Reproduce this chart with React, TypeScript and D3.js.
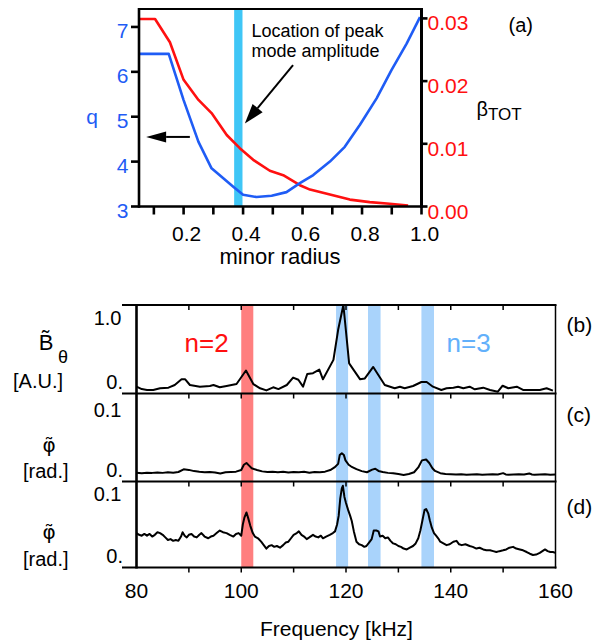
import * as d3 from 'd3';

const FONT = '"Liberation Sans", Arial, Helvetica, sans-serif';

// ── (a) radial profiles ──────────────────────────────────────────────
const qRadius = [0.05, 0.15, 0.2, 0.25, 0.294, 0.367, 0.4, 0.445, 0.496, 0.546, 0.591, 0.636, 0.692, 0.742, 0.793, 0.849, 0.899, 0.95, 0.995];
const qValues = [6.4, 6.4, 5.37, 4.44, 3.85, 3.44, 3.26, 3.21, 3.24, 3.32, 3.52, 3.7, 4.0, 4.33, 4.82, 5.41, 6.04, 6.63, 7.22];
const betaRadius = [0.05, 0.104, 0.154, 0.2, 0.25, 0.294, 0.345, 0.389, 0.434, 0.49, 0.535, 0.591, 0.625, 0.692, 0.759, 0.826, 0.893, 0.955];
const betaValues = [0.0299, 0.0299, 0.0262, 0.0202, 0.017, 0.0149, 0.0114, 0.0093, 0.00745, 0.0057, 0.005, 0.0034, 0.0027, 0.0019, 0.0011, 0.0007, 0.00043, 0.00016];
const radiusTicks = [0.1, 0.2, 0.3, 0.4, 0.5, 0.6, 0.7, 0.8, 0.9, 1.0];
const radiusLabels = [0.2, 0.4, 0.6, 0.8, 1.0];
const qTicks = [3, 4, 5, 6, 7];
const betaTicks = [0, 0.01, 0.02, 0.03];
const peakBand = [0.37, 0.398];
// arrows: [fromR, fromQ, toR, toQ]
const arrowsA = [
  [0.568, 6.15, 0.406, 4.85],
  [0.221, 4.55, 0.074, 4.55],
];

// ── (b)-(d) spectra ──────────────────────────────────────────────────
const freqTicks = [80, 90, 100, 110, 120, 130, 140, 150, 160];
const freqLabels = [80, 100, 120, 140, 160];
const n2Bands = [[100, 102.3]];
const n3Bands = [[118.1, 120.4], [124.2, 126.6], [134.4, 136.8]];

const freqB = [80, 81, 82, 83.2, 84.5, 86.1, 87.3, 88.6, 89.3, 90.2,
  92.1, 94.0, 94.7, 95.9, 97.2, 99.1, 100.9, 102.3, 103.6, 104.8,
  106.1, 107.1, 108.7, 109.9, 110.9, 111.8, 112.6, 113.7, 114.9, 115.6,
  117.6, 118.5, 119.5, 120.6, 122.7, 123.6, 125.2, 127.4, 129.3, 130.3,
  131.2, 132.8, 134.4, 135.4, 136.6, 138.2, 139.2, 140.5, 141.4, 142.4,
  143.6, 144.6, 146.2, 147.5, 149.0, 149.9, 151.0, 152.6, 153.8, 155.7,
  157.0, 158.3, 159.5];
const ampB = [0.077, 0.05, 0.04, 0.04, 0.059, 0.066, 0.096, 0.16, 0.16, 0.096,
  0.077, 0.085, 0.096, 0.07, 0.085, 0.107, 0.26, 0.107, 0.059, 0.035,
  0.07, 0.05, 0.096, 0.18, 0.155, 0.077, 0.22, 0.23, 0.27, 0.16,
  0.38, 0.72, 1.0, 0.34, 0.16, 0.17, 0.3, 0.096, 0.059, 0.077,
  0.059, 0.085, 0.13, 0.13, 0.077, 0.04, 0.059, 0.066, 0.077, 0.059,
  0.077, 0.047, 0.066, 0.04, 0.02, 0.088, 0.059, 0.077, 0.04, 0.04,
  0.04, 0.059, 0.032];

const freqC = [80, 81, 82, 83, 84, 85, 86, 87, 88, 89,
  90, 91, 92, 93, 94, 95, 96, 97, 98, 99,
  100, 100.5, 101, 101.5, 102,
  103, 104, 105, 106, 107, 108, 109, 110, 111, 112, 113, 114, 115, 116, 117,
  117.8, 118.5, 118.8, 119.2, 119.6, 119.9, 120.5, 121,
  122, 123, 124, 125, 125.6, 126.2,
  127, 128, 129, 130, 131, 132, 133,
  133.8, 134.5, 135.3, 135.9, 136.5,
  137, 138, 139, 140, 141, 142, 143, 144, 145, 146, 147, 148, 149, 150,
  150.5, 151, 152, 153, 154, 155, 155.5, 156, 157, 158, 159, 160];
const phiC = [0.010, 0.0095, 0.010, 0.0098, 0.0102, 0.0098, 0.0105, 0.010, 0.0108, 0.0138,
  0.0132, 0.0118, 0.011, 0.0105, 0.0108, 0.0102, 0.009, 0.0105, 0.0108, 0.0112,
  0.013, 0.019, 0.021, 0.018, 0.015,
  0.013, 0.0115, 0.0108, 0.011, 0.0105, 0.011, 0.0102, 0.0108, 0.0105, 0.011, 0.010, 0.0108, 0.0105, 0.0112, 0.013,
  0.016, 0.02, 0.03, 0.032, 0.03, 0.024, 0.019, 0.017,
  0.014, 0.0118, 0.0105, 0.0135, 0.0145, 0.012,
  0.0108, 0.0098, 0.0095, 0.0085, 0.0075, 0.0085, 0.0105,
  0.016, 0.024, 0.025, 0.021, 0.015,
  0.012, 0.0095, 0.0085, 0.0082, 0.008, 0.0082, 0.0078, 0.008, 0.0082, 0.0078, 0.008, 0.0082, 0.008, 0.0095,
  0.008, 0.0078, 0.008, 0.0082, 0.008, 0.0092, 0.008, 0.0078, 0.008, 0.0082, 0.0078, 0.008];

const freqD = [80, 80.5, 81, 81.5, 82, 82.5, 83, 83.5, 84, 84.5, 85, 85.5, 86, 86.5, 87, 87.5, 88,
  88.5, 88.8, 89.2, 89.6, 90, 90.5, 91, 91.5, 92, 92.4, 93, 93.7, 94.2, 94.7, 95.3, 95.9, 96.5, 97.2, 97.8, 98.5, 99, 99.5, 100,
  100.3, 100.6, 101, 101.3, 101.7, 102.2, 102.6, 103.2, 103.8, 104.3, 104.8,
  105.3, 105.8, 106.3, 106.8, 107.4, 108, 108.5, 109, 109.5, 110,
  110.6, 111, 111.5, 112, 112.5, 113, 113.7, 114.2, 114.7, 115.2,
  115.6, 116.2, 116.9, 117.5, 117.9, 118.3, 118.6, 118.9, 119.2, 119.4,
  119.7, 120, 120.4, 120.8, 121.1, 121.5, 122, 122.5, 123, 123.5,
  123.9, 124.4, 124.9, 125.3, 125.8, 126.2, 126.5, 127, 127.5, 128,
  128.5, 129, 129.5, 130, 130.5, 131, 131.6, 132.2, 132.8, 133.3,
  133.8, 134.2, 134.6, 135, 135.3, 135.7, 136, 136.4, 136.8, 137.2,
  137.6, 138, 138.6, 139.2, 139.8, 140.5, 141.1, 141.6, 142.1, 142.8,
  143.6, 144.2, 144.9, 145.5, 146.2, 146.8, 147.5, 148.1, 148.7, 149.3,
  150, 150.6, 151.2, 151.9, 152.5, 153.2, 153.8, 154.5, 155.1, 155.7,
  156.3, 157, 157.5, 158, 158.5, 159, 159.5, 160];
const phiD = [0.040, 0.038, 0.037, 0.039, 0.037, 0.039, 0.036, 0.038, 0.041, 0.040, 0.038, 0.035, 0.032, 0.033, 0.031, 0.032, 0.031,
  0.036, 0.041, 0.037, 0.035, 0.038, 0.039, 0.036, 0.035, 0.038, 0.040, 0.036, 0.034, 0.036, 0.037, 0.040, 0.043, 0.041, 0.040, 0.038, 0.036, 0.039, 0.040, 0.037,
  0.050, 0.058, 0.064, 0.058, 0.049, 0.040, 0.036, 0.034, 0.030, 0.026, 0.022,
  0.025, 0.026, 0.024, 0.025, 0.023, 0.026, 0.029, 0.030, 0.034, 0.038,
  0.040, 0.042, 0.038, 0.036, 0.033, 0.035, 0.038, 0.036, 0.035, 0.037,
  0.034, 0.036, 0.038, 0.040, 0.042, 0.050, 0.060, 0.080, 0.092, 0.095,
  0.082, 0.075, 0.067, 0.060, 0.054, 0.042, 0.030, 0.027, 0.026, 0.024,
  0.025, 0.029, 0.033, 0.043, 0.043, 0.042, 0.036, 0.037, 0.034, 0.035,
  0.031, 0.028, 0.027, 0.025, 0.024, 0.022, 0.021, 0.023, 0.025, 0.028,
  0.034, 0.043, 0.055, 0.067, 0.068, 0.063, 0.055, 0.046, 0.040, 0.037,
  0.034, 0.030, 0.028, 0.026, 0.027, 0.030, 0.031, 0.027, 0.026, 0.027,
  0.025, 0.024, 0.022, 0.023, 0.021, 0.020, 0.020, 0.019, 0.018, 0.019,
  0.020, 0.021, 0.023, 0.024, 0.022, 0.021, 0.020, 0.018, 0.016, 0.0145,
  0.015, 0.017, 0.019, 0.021, 0.019, 0.018, 0.018, 0.017];

const BLUE = '#1f5cf5';
const RED = '#ff1010';

function Arrow({ x1, y1, x2, y2, head = 20, half = 6 }: { x1: number; y1: number; x2: number; y2: number; head?: number; half?: number }) {
  const ang = Math.atan2(y2 - y1, x2 - x1);
  const bx = x2 - head * Math.cos(ang);
  const by = y2 - head * Math.sin(ang);
  const px = -Math.sin(ang) * half;
  const py = Math.cos(ang) * half;
  return (
    <g>
      <line x1={x1} y1={y1} x2={bx} y2={by} stroke="#000" strokeWidth={2} />
      <polygon points={`${x2},${y2} ${bx + px},${by + py} ${bx - px},${by - py}`} fill="#000" />
    </g>
  );
}

export default function App() {
  const W = 594, H = 643;

  // panel (a)
  const xR = d3.scaleLinear().domain([0.05, 1.0]).range([139, 421.5]);
  const yQ = d3.scaleLinear().domain([3, 7.4]).range([206.5, 9]);
  const yBeta = d3.scaleLinear().domain([0, 0.0315]).range([206.5, 9]);
  const qPath = d3.line<[number, number]>().x(d => xR(d[0])).y(d => yQ(d[1]))(d3.zip(qRadius, qValues) as [number, number][]);
  const betaPath = d3.line<[number, number]>().x(d => xR(d[0])).y(d => yBeta(d[1]))(d3.zip(betaRadius, betaValues) as [number, number][]);
  const [aL, aR] = xR.range();
  const [aB, aT] = yQ.range();

  // panels (b)-(d)
  const xF = d3.scaleLinear().domain([80, 160]).range([136.5, 555.5]);
  const yB = d3.scaleLinear().domain([0, 1]).range([393.5, 305]);
  const yC = d3.scaleLinear().domain([0, 0.1]).range([481.5, 393.5]);
  const yD = d3.scaleLinear().domain([0, 0.1]).range([567.5, 481.5]);
  const panels = [
    { id: 'b', y: yB, fx: freqB, vals: ampB, top: 1, topLabel: '1.0', topDy: 20, tagDy: 27, tag: '(b)' },
    { id: 'c', y: yC, fx: freqC, vals: phiC, top: 0.1, topLabel: '0.1', topDy: 23, tagDy: 28, tag: '(c)' },
    { id: 'd', y: yD, fx: freqD, vals: phiD, top: 0.1, topLabel: '0.1', topDy: 19, tagDy: 32, tag: '(d)' },
  ];
  const fTop = yB.range()[1];
  const fBot = yD.range()[0];
  const [fL, fR] = xF.range();
  const edges = [yB(1), yB(0), yC(0), yD(0)];

  return (
    <svg width={W} height={H} style={{ position: 'absolute', left: 0, top: 0, background: '#fff' }} fontFamily={FONT}>
      <rect width={W} height={H} fill="#fff" />

      {/* ── (a) ── */}
      <rect x={xR(peakBand[0])} y={aT} width={xR(peakBand[1]) - xR(peakBand[0])} height={aB - aT} fill="#3fc6f6" />
      <path d={betaPath ?? ''} fill="none" stroke={RED} strokeWidth={2.6} strokeLinejoin="round" />
      <path d={qPath ?? ''} fill="none" stroke={BLUE} strokeWidth={2.6} strokeLinejoin="round" />
      <line x1={aL} x2={aR} y1={aT} y2={aT} stroke="#000" strokeWidth={2} />
      <line x1={aL} x2={aR + 1.2} y1={aB} y2={aB} stroke="#000" strokeWidth={2.6} />
      <line x1={aL} x2={aL} y1={aT - 1} y2={aB + 1.3} stroke="#000" strokeWidth={2.6} />
      <line x1={aR} x2={aR} y1={aT - 1} y2={aB + 1.3} stroke="#000" strokeWidth={3} />
      {radiusTicks.map(t => (
        <line key={'rt' + t} x1={xR(t)} x2={xR(t)} y1={aB} y2={aB + 8} stroke="#000" strokeWidth={2.6} />
      ))}
      {radiusLabels.map(t => (
        <text key={'rl' + t} x={xR(t) + 3} y={240.5} textAnchor="middle" fontSize={21}>{t.toFixed(1)}</text>
      ))}
      {qTicks.map(t => (
        <g key={'q' + t}>
          <line x1={aL - 8} x2={aL} y1={yQ(t)} y2={yQ(t)} stroke="#000" strokeWidth={2.6} />
          <text x={128.5} y={yQ(t) + 11.5} textAnchor="end" fontSize={21} fill={BLUE}>{t}</text>
        </g>
      ))}
      {betaTicks.map(t => (
        <g key={'b' + t}>
          <line x1={aR} x2={aR + 6} y1={yBeta(t)} y2={yBeta(t)} stroke="#000" strokeWidth={2.6} />
          <text x={427.5} y={yBeta(t) + 12} fontSize={21} fill={RED}>{t.toFixed(2)}</text>
        </g>
      ))}
      <text x={92} y={124} textAnchor="middle" fontSize={21} fill={BLUE}>q</text>
      <text x={476.5} y={116} fontSize={20}>β<tspan fontSize={17} dy={4}>TOT</tspan></text>
      <text x={508.5} y={32} fontSize={20}>(a)</text>
      <text x={280} y={264} textAnchor="middle" fontSize={22}>minor radius</text>
      <text x={251.5} y={36.5} fontSize={18}>Location of peak</text>
      <text x={251.5} y={56.5} fontSize={18}>mode amplitude</text>
      {arrowsA.map((a, i) => (
        <Arrow key={'ar' + i} x1={xR(a[0])} y1={yQ(a[1])} x2={xR(a[2])} y2={yQ(a[3])} half={i === 0 ? 6.5 : 5.5} />
      ))}

      {/* ── (b)-(d) ── */}
      {n2Bands.map((b, i) => (
        <rect key={'n2' + i} x={xF(b[0])} y={fTop} width={xF(b[1]) - xF(b[0])} height={fBot - fTop} fill="#ff7f7f" />
      ))}
      {n3Bands.map((b, i) => (
        <rect key={'n3' + i} x={xF(b[0])} y={fTop} width={xF(b[1]) - xF(b[0])} height={fBot - fTop} fill="#a9d3fb" />
      ))}
      {panels.map(p => {
        const d = d3.line<[number, number]>().x(v => xF(v[0])).y(v => p.y(v[1]))(d3.zip(p.fx, p.vals) as [number, number][]);
        return (
          <g key={p.id}>
            <path d={d ?? ''} fill="none" stroke="#000" strokeWidth={2} strokeLinejoin="round" />
            <text x={121.5} y={p.y(p.top) + p.topDy} textAnchor="end" fontSize={20}>{p.topLabel}</text>
            <text x={123} y={p.y(0) - 4.5} textAnchor="end" fontSize={20}>0.</text>
            <text x={566.5} y={p.y(p.top) + p.tagDy} fontSize={21}>{p.tag}</text>
          </g>
        );
      })}
      {edges.map((e, i) => (
        <g key={'e' + i}>
          <line x1={122} x2={fR + 1} y1={e} y2={e} stroke="#000" strokeWidth={2} />
          {freqTicks.filter(t => t > 80 && t < 160).map(t => (
            <line key={'ft' + t} x1={xF(t)} x2={xF(t)} y1={e} y2={e + 5} stroke="#000" strokeWidth={1.5} />
          ))}
        </g>
      ))}
      <line x1={fL} x2={fL} y1={fTop} y2={fBot + 1} stroke="#000" strokeWidth={2.6} />
      <line x1={fR} x2={fR} y1={fTop} y2={fBot + 1} stroke="#000" strokeWidth={1.5} />
      {freqLabels.map(t => (
        <text key={'fl' + t} x={xF(t)} y={598} textAnchor="middle" fontSize={21}>{t}</text>
      ))}
      <text x={336.5} y={636} textAnchor="middle" fontSize={21}>Frequency [kHz]</text>
      <text x={184.5} y={351.5} fontSize={26} fill={RED}>n=2</text>
      <text x={446.5} y={351.5} fontSize={26} fill="#62b0fb">n=3</text>

      {/* left axis titles (tilde as combining accent) */}
      <text x={46} y={350} textAnchor="middle" fontSize={22}>{'B\u0303'}</text>
      <text x={63} y={363} textAnchor="middle" fontSize={18}>θ</text>
      <text x={13} y={388} fontSize={20}>[A.U.]</text>
      <text x={49} y={452} textAnchor="middle" fontSize={20} fontFamily="DejaVu Sans">{'\u03C6\u0303'}</text>
      <text x={23} y={478} fontSize={20}>[rad.]</text>
      <text x={49} y={539} textAnchor="middle" fontSize={20} fontFamily="DejaVu Sans">{'\u03C6\u0303'}</text>
      <text x={23} y={566} fontSize={20}>[rad.]</text>
    </svg>
  );
}
